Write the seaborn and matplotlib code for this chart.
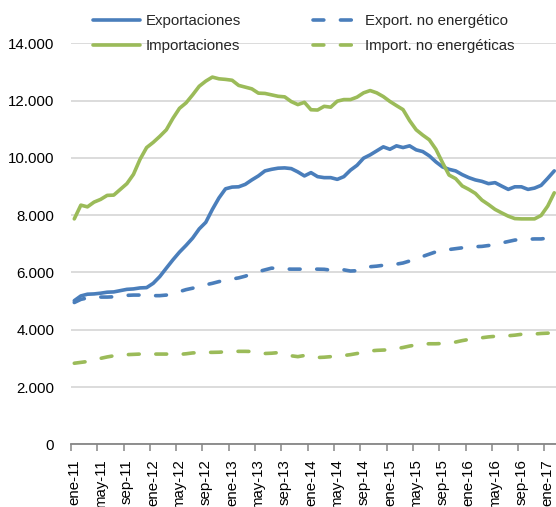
import matplotlib
matplotlib.use("Agg")
import matplotlib.pyplot as plt
import seaborn as sns
import numpy as np
import pandas as pd

meses = ["ene", "feb", "mar", "abr", "may", "jun", "jul", "ago", "sep", "oct", "nov", "dic"]
anios = [11, 12, 13, 14, 15, 16, 17]
fechas = [f"{m}-{a}" for a in anios for m in meses][:74]  # ene-11 .. feb-17

exportaciones = [5015, 5180, 5240, 5250, 5275, 5310, 5320, 5365, 5410, 5425, 5460, 5470,
                 5620, 5855, 6150, 6440, 6710, 6945, 7200, 7520, 7750, 8200, 8600, 8920,
                 8980, 8990, 9075, 9230, 9370, 9545, 9600, 9640, 9650, 9625, 9510, 9370,
                 9485, 9345, 9310, 9310, 9250, 9345, 9570, 9740, 9990, 10105, 10245, 10385,
                 10300, 10420, 10360, 10420, 10280, 10220, 10070, 9860, 9685, 9600, 9545, 9415,
                 9310, 9230, 9180, 9100, 9135, 9015, 8900, 8990, 8990, 8900, 8945, 9040,
                 9285, 9545]
importaciones = [7870, 8350, 8290, 8455, 8550, 8690, 8700, 8900, 9100, 9425, 9950, 10360,
                 10540, 10750, 10980, 11380, 11730, 11920, 12200, 12500, 12680, 12820, 12760, 12740,
                 12710, 12530, 12470, 12410, 12260, 12250, 12200, 12150, 12130, 11965, 11860, 11940,
                 11680, 11670, 11800, 11770, 11980, 12035, 12035, 12120, 12270, 12350, 12270, 12140,
                 11970, 11825, 11685, 11300, 10980, 10795, 10630, 10300, 9835, 9400, 9275, 9020,
                 8900, 8760, 8525, 8370, 8200, 8080, 7965, 7880, 7870, 7870, 7870, 7990,
                 8315, 8780]
export_no_energ = [4950, 5060, 5110, 5130, 5140, 5140, 5150, 5170, 5200, 5210, 5210, 5200,
                   5190, 5190, 5210, 5260, 5330, 5400, 5450, 5510, 5570, 5620, 5680, 5730,
                   5770, 5810, 5870, 5950, 6030, 6090, 6150, 6140, 6120, 6115, 6115, 6115,
                   6115, 6115, 6110, 6080, 6110, 6090, 6050, 6060, 6130, 6200, 6220, 6250,
                   6260, 6290, 6330, 6400, 6480, 6560, 6640, 6720, 6770, 6800, 6830, 6860,
                   6890, 6900, 6910, 6940, 6980, 7030, 7080, 7130, 7150, 7160, 7170, 7170,
                   7200, 7250]
import_no_energ = [2830, 2860, 2890, 2940, 3000, 3050, 3090, 3110, 3130, 3140, 3150, 3150,
                   3150, 3150, 3150, 3150, 3140, 3160, 3190, 3200, 3210, 3210, 3215, 3230,
                   3240, 3245, 3245, 3240, 3210, 3170, 3180, 3200, 3150, 3090, 3060, 3100,
                   3060, 3030, 3040, 3060, 3080, 3100, 3130, 3170, 3220, 3260, 3280, 3290,
                   3300, 3340, 3380, 3430, 3470, 3500, 3510, 3510, 3520, 3540, 3570, 3620,
                   3660, 3700, 3720, 3750, 3770, 3780, 3790, 3810, 3840, 3840, 3850, 3870,
                   3880, 3900]

series = [
    ("Exportaciones", exportaciones, "#4A7EBB", "solid"),
    ("Importaciones", importaciones, "#9BBB59", "solid"),
    ("Export. no energético", export_no_energ, "#4A7EBB", "dashed"),
    ("Import. no energéticas", import_no_energ, "#9BBB59", "dashed"),
]

sns.set_style("white")
plt.rcParams["font.family"] = ["Liberation Sans", "DejaVu Sans"]

W, H = 556, 507
fig = plt.figure(figsize=(W / 100, H / 100), dpi=100)
left_px, right_px = 71, 556
top_px, bot_px = 43.3, 444.3
ax = fig.add_axes([left_px / W, 1 - bot_px / H, (right_px - left_px) / W, (bot_px - top_px) / H])

x = np.arange(len(fechas))
for name, vals, col, style in series:
    df = pd.DataFrame({"i": x, "v": vals})
    ls = "-" if style == "solid" else (0, (3.0, 4.6))
    sns.lineplot(data=df, x="i", y="v", ax=ax, color=col, linewidth=2.6,
                 linestyle=ls, label=name, legend=False)
for ln in ax.get_lines():
    ln.set_dash_capstyle("round")
    ln.set_solid_capstyle("round")
    ln.set_solid_joinstyle("round")

ax.set_ylim(0, 14000)
ax.set_xlim(-0.5, -0.5 + (right_px - left_px) / 6.575)
yt = np.arange(0, 14001, 2000)
ax.set_yticks(yt)
ax.set_yticklabels([f"{v:,}".replace(",", ".") for v in yt])
ax.yaxis.grid(True, color="#D9D9D9", linewidth=1.3)
ax.set_axisbelow(True)
ax.tick_params(axis="y", length=0, pad=12, labelsize=10.8, labelcolor="black")

major = np.arange(0, len(fechas), 4)
ax.set_xticks(major)
ax.set_xticklabels([fechas[i] for i in major], rotation=90, ha="center", va="top")
ax.set_xticks(np.arange(-0.5, len(fechas), 4), minor=True)
ax.tick_params(axis="x", which="major", length=0, pad=11, labelsize=10.8, labelcolor="black")
ax.tick_params(axis="x", which="minor", length=5, width=1.1, color="#868686", direction="out")
ax.xaxis.set_ticks_position("bottom")

for s in ["top", "right", "left"]:
    ax.spines[s].set_visible(False)
ax.spines["bottom"].set_color("#868686")
ax.spines["bottom"].set_linewidth(1.3)
ax.set_xlabel("")
ax.set_ylabel("")

handles, labels = ax.get_legend_handles_labels()
leg = fig.legend(handles, labels, ncol=2, loc="upper left",
                 bbox_to_anchor=(93 / W, 1 - 14 / H), frameon=False,
                 fontsize=10.8, handlelength=3.1, handletextpad=0.4,
                 columnspacing=4.8, labelspacing=0.72, borderpad=0, borderaxespad=0)

fig.savefig("out.png", dpi=100)
